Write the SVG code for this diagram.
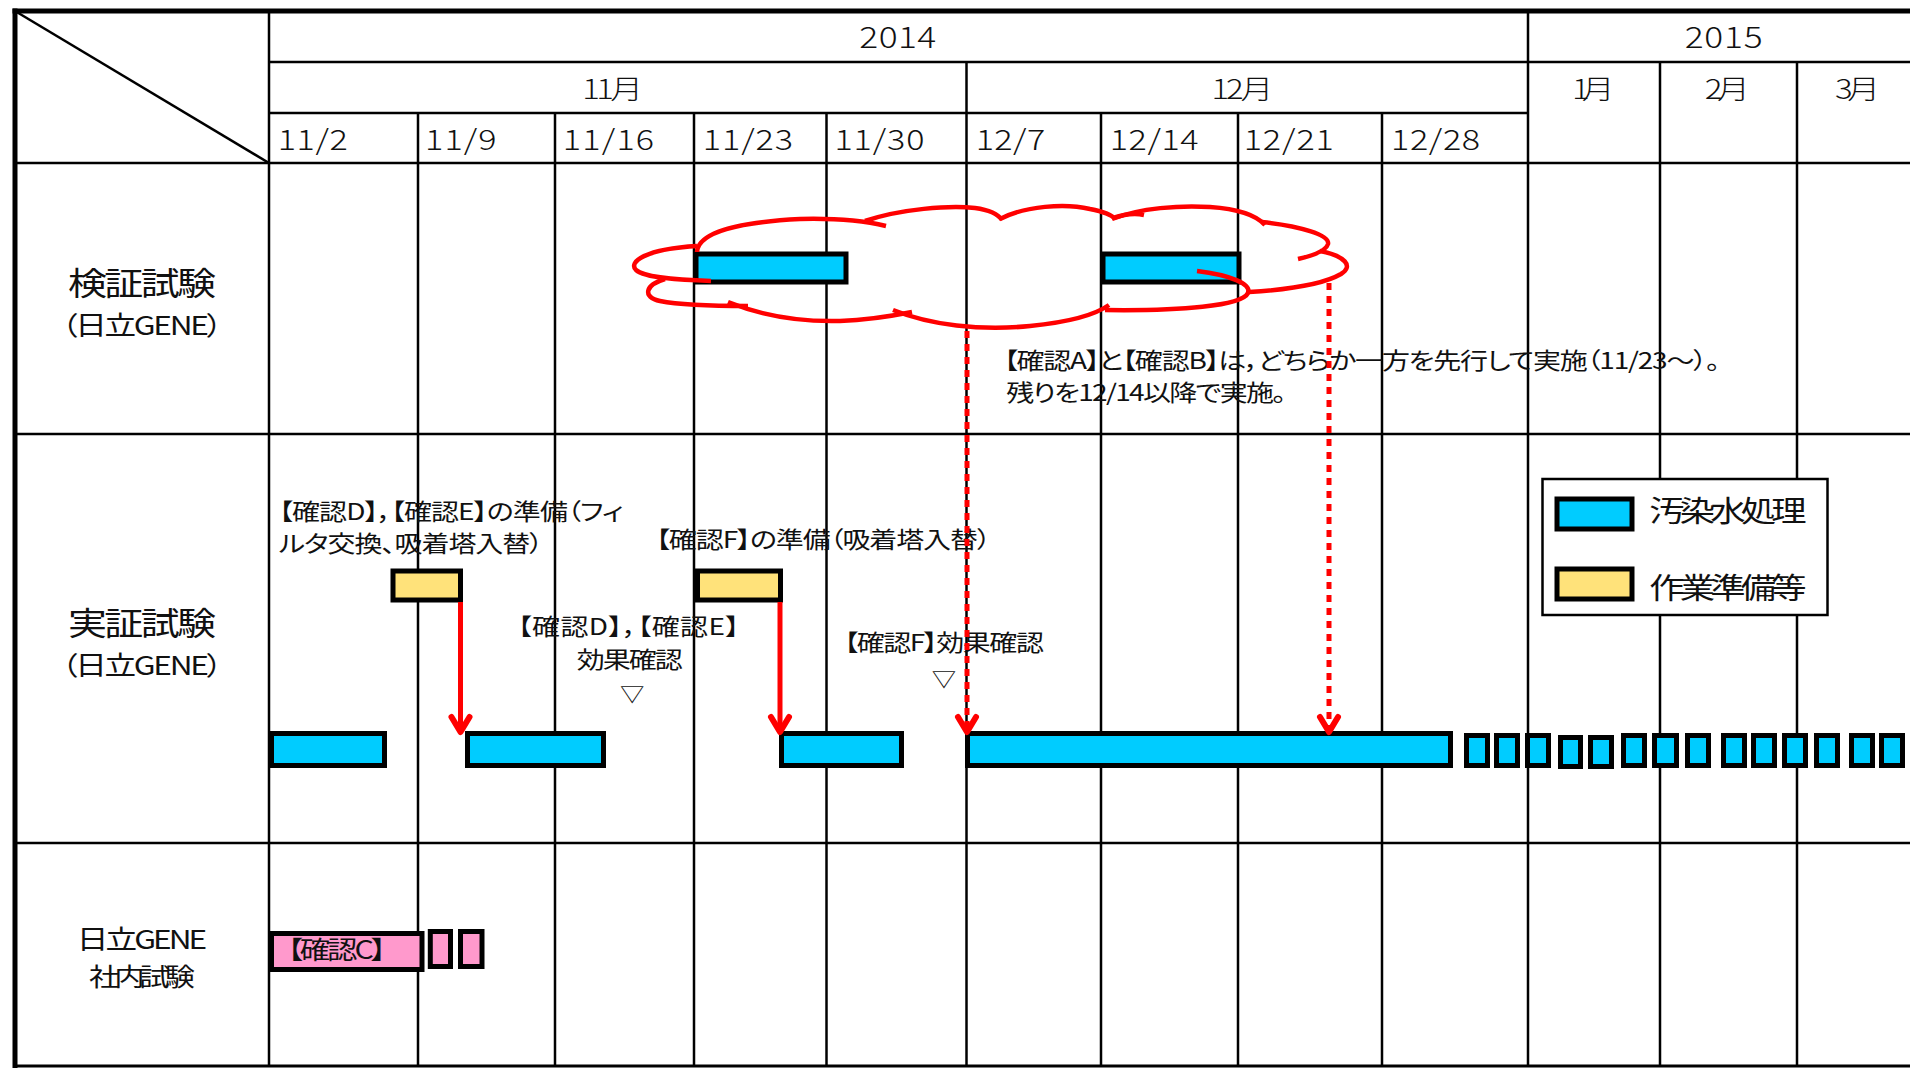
<svg xmlns="http://www.w3.org/2000/svg" width="1910" height="1068" viewBox="0 0 1910 1068">
<style>
.t{font-family:'Noto Sans CJK JP','Noto Sans CJK SC',sans-serif;fill:#111;font-feature-settings:"palt" 1;}
.hdr{font-weight:300;}
.bar{stroke:#000;stroke-width:5;}
.cyan{fill:#00CCFF;}
.yel{fill:#FFE27A;}
.pink{fill:#FF99CC;}
.cloud{fill:none;stroke:#FF0000;stroke-width:4.5;stroke-linecap:butt;}
.arr{fill:none;stroke:#FF0000;stroke-width:5;}
.dot{fill:none;stroke:#FF0000;stroke-width:5;stroke-dasharray:7 6;}
.head{fill:none;stroke:#FF0000;stroke-width:6;stroke-linecap:round;stroke-linejoin:round;}
</style>
<rect x="0" y="0" width="1910" height="1068" fill="#fff"/>
<g id="grid" stroke="#000" stroke-width="2.5" fill="none">
<line x1="269" y1="62" x2="1910" y2="62"/>
<line x1="269" y1="113" x2="1528" y2="113"/>
<line x1="15" y1="163" x2="1910" y2="163"/>
<line x1="15" y1="434" x2="1910" y2="434"/>
<line x1="15" y1="843" x2="1910" y2="843"/>
<line x1="15" y1="1066" x2="1910" y2="1066" stroke-width="3"/>
<line x1="269" y1="11" x2="269" y2="1066"/>
<line x1="1528" y1="11" x2="1528" y2="1066"/>
<line x1="966.5" y1="62" x2="966.5" y2="1066"/>
<line x1="1660" y1="62" x2="1660" y2="1066"/>
<line x1="1797" y1="62" x2="1797" y2="1066"/>
<line x1="418" y1="113" x2="418" y2="1066"/>
<line x1="555" y1="113" x2="555" y2="1066"/>
<line x1="694" y1="113" x2="694" y2="1066"/>
<line x1="826.5" y1="113" x2="826.5" y2="1066"/>
<line x1="1101" y1="113" x2="1101" y2="1066"/>
<line x1="1238" y1="113" x2="1238" y2="1066"/>
<line x1="1382" y1="113" x2="1382" y2="1066"/>
<line x1="15" y1="11" x2="269" y2="163"/>
<line x1="12.5" y1="11" x2="1910" y2="11" stroke-width="5"/>
<line x1="15" y1="8.5" x2="15" y2="1068" stroke-width="5"/>
</g>
<g id="header" class="t hdr">
<g transform="scale(1.21811 1)">
<text x="737" y="48" font-size="29" text-anchor="middle" textLength="63">2014</text>
<text x="1415" y="48" font-size="29" text-anchor="middle" textLength="64">2015</text>
<text x="503" y="99" font-size="27" text-anchor="middle" textLength="50">11月</text>
<text x="1020" y="99" font-size="27" text-anchor="middle" textLength="51">12月</text>
<text x="1308" y="99" font-size="27" text-anchor="middle" textLength="35">1月</text>
<text x="1418" y="99" font-size="27" text-anchor="middle" textLength="37">2月</text>
<text x="1525" y="99" font-size="27" text-anchor="middle" textLength="37">3月</text>
<text x="228" y="150" font-size="28" textLength="57.5">11/2</text>
<text x="349" y="150" font-size="28" textLength="58.7">11/9</text>
<text x="462" y="150" font-size="28" textLength="75">11/16</text>
<text x="577" y="150" font-size="28" textLength="74">11/23</text>
<text x="685" y="150" font-size="28" textLength="74">11/30</text>
<text x="801" y="150" font-size="28" textLength="57">12/7</text>
<text x="911" y="150" font-size="28" textLength="73">12/14</text>
<text x="1021" y="150" font-size="28" textLength="74">12/21</text>
<text x="1142" y="150" font-size="28" textLength="73">12/28</text>
</g>
</g>
<g id="row-verify" class="t">
<g transform="scale(1.21811 1)">
<text x="116.6" y="295" font-size="32" text-anchor="middle" textLength="121.5">検証試験</text>
<text x="116.6" y="335" font-size="26" text-anchor="middle" textLength="132">（日立GENE）</text>
</g>
</g>
<g id="row-demo" class="t">
<g transform="scale(1.21811 1)">
<text x="116.6" y="635" font-size="32" text-anchor="middle" textLength="121.5">実証試験</text>
<text x="116.6" y="675" font-size="26" text-anchor="middle" textLength="132">（日立GENE）</text>
</g>
</g>
<g id="row-inhouse" class="t">
<g transform="scale(1.21811 1)">
<text x="116.6" y="949" font-size="26" text-anchor="middle" textLength="107">日立GENE</text>
<text x="116.6" y="986" font-size="25" text-anchor="middle" textLength="87">社内試験</text>
</g>
</g>
<g id="verify-bar-1"><rect class="bar cyan" x="696" y="254" width="150" height="28"/></g>
<g id="verify-bar-2"><rect class="bar cyan" x="1103" y="254" width="136" height="28"/></g>
<g id="prep-bar-1"><rect class="bar yel" x="393" y="571" width="67.5" height="29"/></g>
<g id="prep-bar-2"><rect class="bar yel" x="697.5" y="571" width="83" height="29"/></g>
<g id="demo-bar-1"><rect class="bar cyan" x="271.5" y="733.5" width="113" height="32"/></g>
<g id="demo-bar-2"><rect class="bar cyan" x="467.5" y="733.5" width="136" height="32"/></g>
<g id="demo-bar-3"><rect class="bar cyan" x="781.5" y="733.5" width="120" height="32"/></g>
<g id="demo-bar-4"><rect class="bar cyan" x="967.5" y="733.5" width="483" height="32"/></g>
<g id="demo-blocks" class="bar cyan">
<rect x="1466.5" y="735.5" width="21" height="30"/>
<rect x="1496.5" y="735.5" width="21" height="30"/>
<rect x="1527.5" y="735.5" width="21" height="30"/>
<rect x="1560.5" y="737.5" width="20" height="29"/>
<rect x="1590.5" y="737.5" width="21" height="29"/>
<rect x="1623.5" y="735.5" width="21" height="30"/>
<rect x="1654.5" y="735.5" width="22" height="30"/>
<rect x="1687.5" y="735.5" width="21" height="30"/>
<rect x="1723.5" y="735.5" width="21" height="30"/>
<rect x="1753.5" y="735.5" width="21" height="30"/>
<rect x="1784.5" y="735.5" width="21" height="30"/>
<rect x="1816.5" y="735.5" width="21" height="30"/>
<rect x="1851.5" y="735.5" width="21" height="30"/>
<rect x="1881.5" y="735.5" width="21" height="30"/>
</g>
<g id="inhouse-bar">
<rect class="bar pink" x="271.5" y="933.5" width="150.5" height="36"/>
<rect class="bar pink" x="430.3" y="931.5" width="20.2" height="35"/>
<rect class="bar pink" x="460.5" y="931.5" width="21.5" height="35"/>
<text class="t" transform="scale(1.21811 1)" x="236" y="959" font-size="25" textLength="81">【確認C】</text>
</g>
<g id="cloud" class="cloud">
<path d="M697,246 C645,249 628,262 636,270 C645,278 680,280 711,281"/>
<path d="M665,279 C645,285 642,297 660,301 C680,305 720,306 748,306"/>
<path d="M728,302 C760,315 800,322 840,321 C870,320 892,316 912,312"/>
<path d="M893,310 C930,325 980,331 1030,326 C1070,322 1095,315 1109,305"/>
<path d="M1197,271 C1230,275 1252,284 1248,293 C1242,306 1180,311 1105,310"/>
<path d="M1320,251 C1345,256 1354,266 1341,274 C1322,285 1282,290 1249,292"/>
<path d="M1262,222 C1300,226 1330,235 1328,244 C1326,251 1311,256 1298,259"/>
<path d="M1112,219 C1140,208 1180,205 1210,207 C1240,209 1256,215 1265,225"/>
<path d="M1000,219 C1025,206 1065,203 1090,209 C1105,212 1112,215 1115,219 M1113,218 C1125,214 1135,213 1144,215"/>
<path d="M865,221 C900,209 950,205 975,208 C990,210 998,214 1002,220"/>
<path d="M697,252 C698,232 740,222 800,219 C840,218 865,221 886,226"/>
</g>
<g id="annotations" class="t">
<g transform="scale(1.21811 1)">
<text x="229" y="520" font-size="23" textLength="283">【確認D】，【確認E】の準備（フィ</text>
<text x="229" y="552" font-size="23" textLength="217">ルタ交換、吸着塔入替）</text>
<text x="538.5" y="548" font-size="23" textLength="275">【確認F】の準備（吸着塔入替）</text>
<text x="425" y="635" font-size="23" textLength="182">【確認D】，【確認E】</text>
<text x="517" y="668" font-size="23" text-anchor="middle" textLength="87">効果確認</text>
<text x="519" y="702" font-size="20" text-anchor="middle">▽</text>
<text x="693" y="651" font-size="23" textLength="164">【確認F】効果確認</text>
<text x="775" y="687" font-size="20" text-anchor="middle">▽</text>
<text x="824" y="369" font-size="23" textLength="588">【確認A】と【確認B】は，どちらか一方を先行して実施（11/23～）。</text>
<text x="826" y="401" font-size="23" textLength="230">残りを12/14以降で実施。</text>
</g>
</g>
<g id="connectors">
<line class="arr" x1="460.5" y1="602" x2="460.5" y2="730"/>
<path class="head" d="M451.5,717 L460.5,732 L469.5,717"/>
<line class="arr" x1="780" y1="602" x2="780" y2="730"/>
<path class="head" d="M771,717 L780,732 L789,717"/>
<line class="dot" x1="967" y1="331" x2="967" y2="728"/>
<path class="head" d="M958,717 L967,732 L976,717"/>
<line class="dot" x1="1329" y1="283" x2="1329" y2="728"/>
<path class="head" d="M1320,717 L1329,732 L1338,717"/>
</g>
<g id="legend">
<rect x="1542.5" y="479" width="285" height="136" fill="#fff" stroke="#000" stroke-width="2.5"/>
<rect class="bar cyan" x="1557" y="499" width="75" height="30"/>
<rect class="bar yel" x="1557" y="569" width="75" height="30"/>
<g class="t" transform="scale(1.21811 1)">
<text x="1354" y="522" font-size="29" textLength="129">汚染水処理</text>
<text x="1354" y="599" font-size="29" textLength="129">作業準備等</text>
</g>
</g>
</svg>
